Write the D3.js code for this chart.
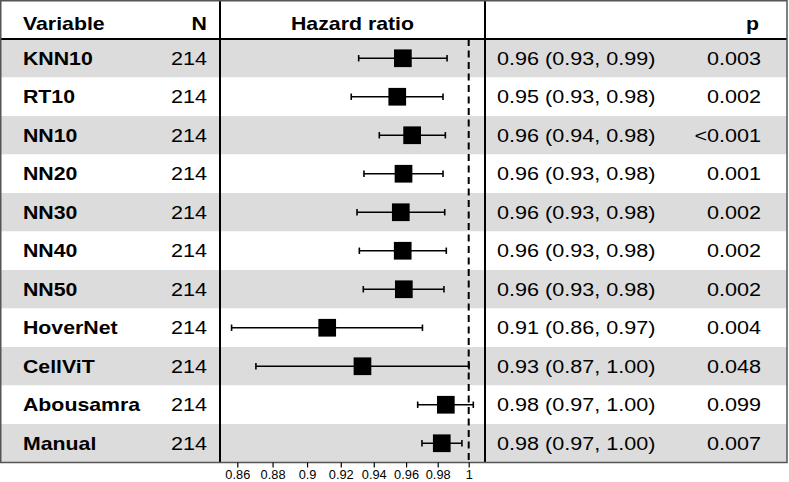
<!DOCTYPE html>
<html><head><meta charset="utf-8">
<script src="https://cdn.jsdelivr.net/npm/d3@7"></script>
<style>body{margin:0;background:#fff}svg{display:block}text{font-family:"Liberation Sans",Arial,Helvetica,sans-serif}</style>
</head><body><div id="chart"></div>
<script>
const variables = ["KNN10","RT10","NN10","NN20","NN30","NN40","NN50","HoverNet","CellViT","Abousamra","Manual"];
const nValues = [214,214,214,214,214,214,214,214,214,214,214];
const hr    = [0.958,0.9545,0.9638,0.9584,0.9567,0.9579,0.9586,0.9119,0.9331,0.9852,0.9826];
const lower = [0.9308,0.9263,0.9434,0.9340,0.9298,0.9312,0.9336,0.8568,0.8705,0.9673,0.9700];
const upper = [0.9860,0.9834,0.9849,0.9834,0.9845,0.9855,0.9840,0.9703,1.0002,1.0030,0.9956];
const ciText = ["0.96 (0.93, 0.99)","0.95 (0.93, 0.98)","0.96 (0.94, 0.98)","0.96 (0.93, 0.98)","0.96 (0.93, 0.98)","0.96 (0.93, 0.98)","0.96 (0.93, 0.98)","0.91 (0.86, 0.97)","0.93 (0.87, 1.00)","0.98 (0.97, 1.00)","0.98 (0.97, 1.00)"];
const pText = ["0.003","0.002","<0.001","0.001","0.002","0.002","0.002","0.004","0.048","0.099","0.007"];
const tickValues = [0.86,0.88,0.9,0.92,0.94,0.96,0.98,1];
const headers = {variable:"Variable", n:"N", hr:"Hazard ratio", p:"p"};

(function () {
const W = 789, H = 482;
const svg = d3.select("#chart").append("svg").attr("width", W).attr("height", H);

const tableTop = 0, headBottom = 39, tableBottom = 462.5;
const tableLeft = 1, tableRight = 787;
const panelL = 220, panelR = 485;
const y = d3.scaleBand().domain(d3.range(variables.length)).range([headBottom, tableBottom]).padding(0);
const x = d3.scaleLog().domain([0.86, 1]).range([237.3, 468.7]);

const FS = 18.3;
function txt(g, t, tx, ty, anchor, bold) {
  const sx = bold ? 21.3 / FS : 21.6 / FS;
  g.append("text").attr("transform", `translate(${tx},${ty}) scale(${sx},1)`)
    .attr("text-anchor", anchor).attr("font-size", FS)
    .attr("font-weight", bold ? "bold" : "normal").attr("fill", "#000").text(t);
}

// row backgrounds
svg.selectAll("rect.bg").data(variables).enter().append("rect").attr("class", "bg")
  .attr("x", tableLeft).attr("width", tableRight - tableLeft)
  .attr("y", (d, i) => y(i)).attr("height", y.bandwidth())
  .attr("fill", (d, i) => i % 2 === 0 ? "#dcdcdc" : "#ffffff");

// reference dashed line
svg.append("line").attr("x1", x(1)).attr("x2", x(1)).attr("y1", headBottom).attr("y2", tableBottom)
  .attr("stroke", "#000").attr("stroke-width", 2).attr("stroke-dasharray", "7,4.5");

// CIs
const g = svg.append("g");
variables.forEach((v, i) => {
  const cy = y(i) + y.bandwidth() / 2;
  g.append("line").attr("x1", x(lower[i])).attr("x2", x(upper[i])).attr("y1", cy).attr("y2", cy)
    .attr("stroke", "#000").attr("stroke-width", 1.6);
  [lower[i], upper[i]].forEach(e => g.append("line").attr("x1", x(e)).attr("x2", x(e))
    .attr("y1", cy - 3.2).attr("y2", cy + 3.2).attr("stroke", "#000").attr("stroke-width", 1.6));
  const s = 17.7;
  g.append("rect").attr("x", x(hr[i]) - s / 2).attr("y", cy - s / 2).attr("width", s).attr("height", s).attr("fill", "#000");
});

// texts
const tg = svg.append("g");
const hb = 29.5;
txt(tg, headers.variable, 23, hb, "start", true);
txt(tg, headers.n, 207, hb, "end", true);
txt(tg, headers.hr, (panelL + panelR) / 2, hb, "middle", true);
txt(tg, headers.p, 759, hb, "end", true);
variables.forEach((v, i) => {
  const by = y(i) + y.bandwidth() / 2 + 6.6;
  txt(tg, v, 23, by, "start", true);
  txt(tg, String(nValues[i]), 207, by, "end", false);
  txt(tg, ciText[i], 497, by, "start", false);
  txt(tg, pText[i], 761, by, "end", false);
});

// grid lines
svg.append("line").attr("x1", tableLeft).attr("x2", tableRight).attr("y1", headBottom).attr("y2", headBottom).attr("stroke", "#000").attr("stroke-width", 2);
[panelL, panelR].forEach(px => svg.append("line").attr("x1", px).attr("x2", px).attr("y1", tableTop).attr("y2", tableBottom).attr("stroke", "#000").attr("stroke-width", 2));
svg.append("rect").attr("x", 0.75).attr("y", 0.75).attr("width", tableRight - 0.75).attr("height", tableBottom - 0.75)
  .attr("fill", "none").attr("stroke", "#555").attr("stroke-width", 1.5);

// axis
const axis = d3.axisBottom(x).tickValues(tickValues).tickFormat(d => String(d)).tickSize(5).tickPadding(2.5);
const ag = svg.append("g").attr("transform", `translate(0,${tableBottom})`).call(axis);
ag.select(".domain").remove();
ag.selectAll(".tick line").attr("stroke", "#000").attr("stroke-width", 1.2);
ag.selectAll(".tick text").attr("font-size", 12.8).attr("fill", "#000").attr("font-family", '"Liberation Sans", Arial, sans-serif');
})();
</script></body></html>
